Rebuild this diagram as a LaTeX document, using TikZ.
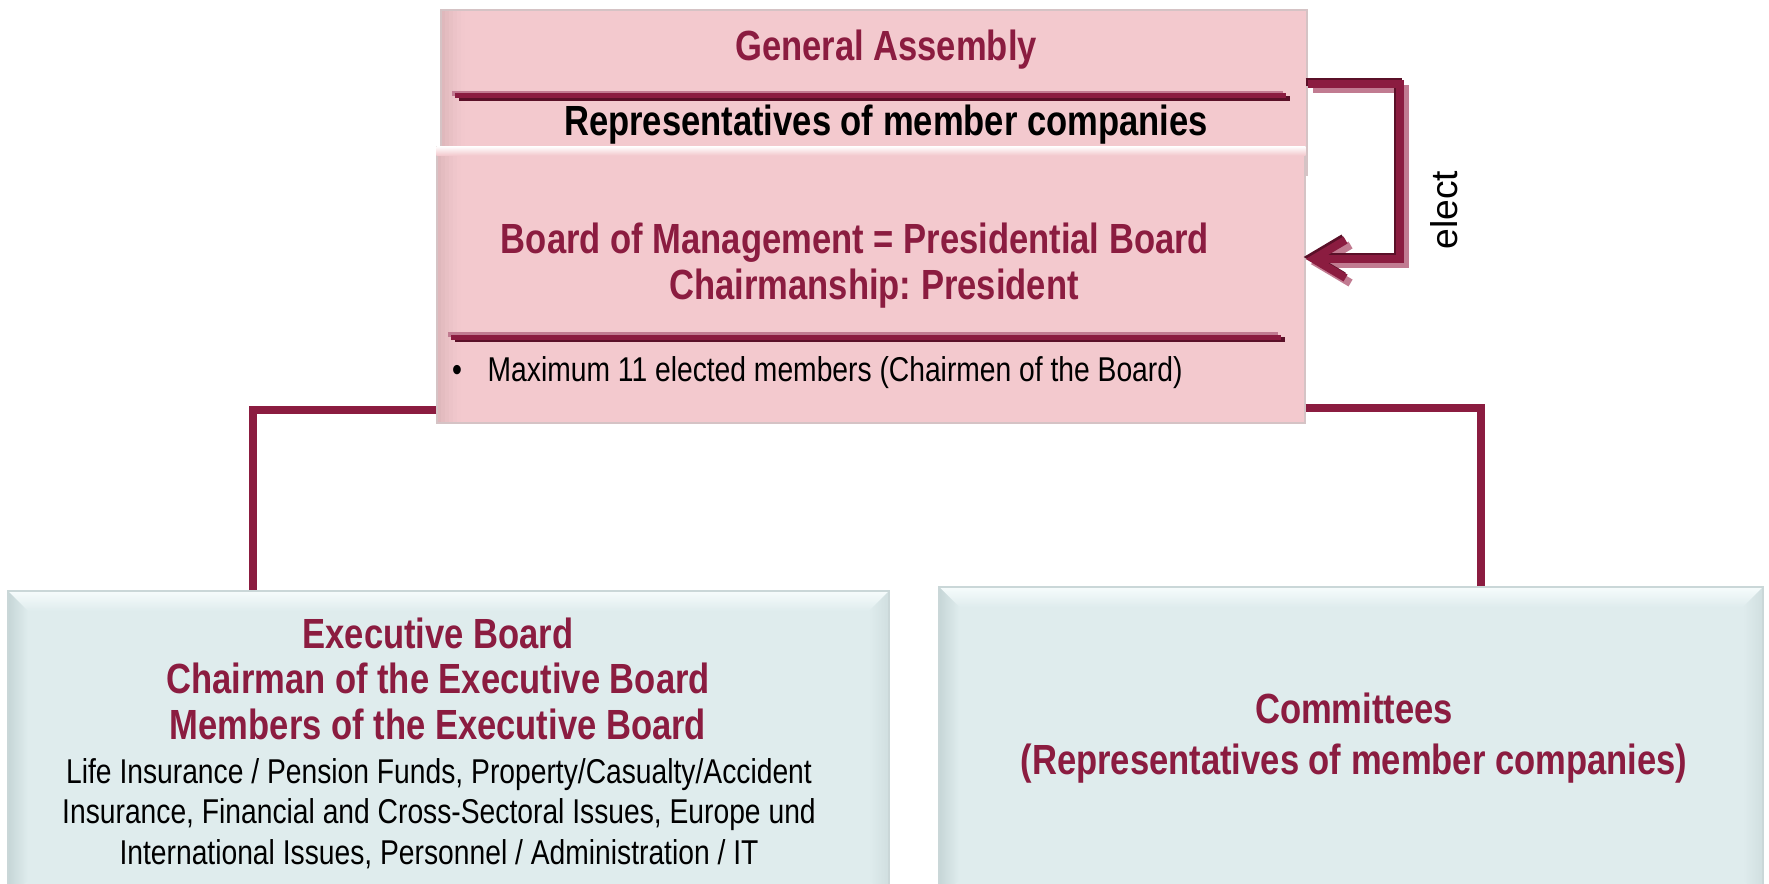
\documentclass[tikz,border=0pt]{standalone}
\usepackage{fontspec}
\setmainfont{Liberation Sans}[FakeStretch=0.82]
\newfontfamily\electfont{Liberation Sans}
\frenchspacing
\usepackage{tikz}
\usetikzlibrary{calc,arrows.meta}
\definecolor{wine}{HTML}{8B1C40}
\definecolor{winedark}{HTML}{5A1028}
\definecolor{wineshade}{HTML}{C17B91}
\definecolor{pinkfill}{HTML}{F3C9CE}
\definecolor{pinkedge}{HTML}{DDB6BA}
\definecolor{pinkrim}{HTML}{D5C3C5}
\definecolor{panelfill}{HTML}{DFECED}
\definecolor{panelhi}{HTML}{F6FCFC}
\definecolor{panelsh}{HTML}{C6D6D7}
\definecolor{panelrim}{HTML}{CAD7D8}

\tikzset{
  pinkbox/.style={draw=pinkrim, line width=0.4pt, fill=pinkfill, inner sep=0pt,
    path picture={
      % darker band fading in from the left edge
      \foreach \i/\p in {0/90,1/70,2/50,3/32,4/16,5/6}
        \fill[pinkedge!\p!pinkfill]
          ([xshift=\i*0.4mm]path picture bounding box.north west) rectangle ([xshift=\i*0.4mm+0.4mm]path picture bounding box.south west);
    }},
  panel/.style={draw=panelrim, line width=0.4pt, fill=panelfill, inner sep=0pt,
    path picture={
      \coordinate (pnw) at (path picture bounding box.north west);
      \coordinate (pne) at (path picture bounding box.north east);
      \coordinate (psw) at (path picture bounding box.south west);
      \coordinate (pse) at (path picture bounding box.south east);
      \shade[top color=panelhi, bottom color=panelfill]
        (pnw) -- (pne) -- ($(pne)+(-20,20)$) -- ($(pnw)+(20,20)$) -- cycle;
      \shade[left color=panelsh, right color=panelfill]
        (pnw) -- ($(pnw)+(20,20)$) -- ($(psw)+(20,-20)$) -- (psw) -- cycle;
      \shade[left color=panelfill, right color=panelsh!60!panelfill]
        (pne) -- ($(pne)+(-20,20)$) -- ($(pse)+(-20,-20)$) -- (pse) -- cycle;
    }},
  head/.style={text=wine, font=\fontsize{12}{13}\selectfont\bfseries, inner sep=0pt},
  body/.style={font=\fontsize{9.8}{11.4}\selectfont, inner sep=0pt},
  link/.style={draw=wine, line width=0.8mm},
  elect/.style={line width=0.8mm, -{Straight Barb[length=3.2mm, width=3.8mm]}},
  sepline/.style={line width=0.5mm}
}

\begin{document}
\begin{tikzpicture}[x=0.1mm, y=-0.1mm]
    \useasboundingbox (0,0) rectangle (1769,883);
    % Upper boxes
    \node[pinkbox, minimum width=86.6mm, minimum height=16.5mm] (ga) at (874,92.5) {};
    \node[pinkbox, minimum width=86.8mm, minimum height=27.6mm] (board) at (871,285) {};
    \shade[top color=white, bottom color=pinkfill]
      (board.north west) rectangle ([yshift=-0.9mm]board.north east);
    % Lower boxes, cut off at the bottom
    \node[panel, minimum width=88.1mm, minimum height=30.9mm] (exec) at (448.5,745.5) {};
    \node[panel, minimum width=82.4mm, minimum height=31.3mm] (committees) at (1351,743.5) {};

    % Rules under the headings
    \coordinate (gasepl) at (455,96);
    \coordinate (gasepr) at (1286,96);
    \coordinate (boardsepl) at (451,337);
    \coordinate (boardsepr) at (1281,337);
    \foreach \from/\to in {gasepl/gasepr, boardsepl/boardsepr} {
      \draw[sepline, wineshade, transform canvas={xshift=-0.3mm, yshift=0.25mm}] (\from) -- (\to);
      \draw[sepline, winedark, transform canvas={xshift=0.4mm, yshift=-0.25mm}] (\from) -- (\to);
      \draw[sepline, wine] (\from) -- (\to);
    }

    % Connectors to the lower boxes
    \coordinate (ljoint) at (253,410);
    \coordinate (rjoint) at (1481,408);
    \draw[link] (board.west |- ljoint) -- (ljoint) -- (exec.north -| ljoint);
    \draw[link] (board.east |- rjoint) -- (rjoint) -- (committees.north -| rjoint);

    % Election arrow with its shadow
    \coordinate (etop) at (1400,84);
    \coordinate (ebot) at (1400,259);
    \draw[elect, wineshade, transform canvas={xshift=0.5mm, yshift=-0.5mm}]
      (ga.east |- etop) -- (etop) -- (ebot) -- (board.east |- ebot);
    \draw[elect, winedark, transform canvas={xshift=-0.2mm, yshift=0.2mm}]
      (ga.east |- etop) -- (etop) -- (ebot) -- (board.east |- ebot);
    \draw[elect, wine]
      (ga.east |- etop) -- (etop) -- (ebot) -- (board.east |- ebot);
    \node[rotate=90, inner sep=0pt, font=\electfont\fontsize{10.6}{12}\selectfont] (electlabel) at (1444,210) {elect};

    % Texts
    \node[head, anchor=base] (gatitle) at (886,61) {General Assembly};
    \node[head, text=black, anchor=base] (gamembers) at (886,136) {Representatives of member companies};
    \node[head, anchor=base] (boardtitle) at (855,254) {Board of Management = Presidential Board};
    \node[head, anchor=base] (chair) at (874,300) {Chairmanship: President};
    \node[body, anchor=base] (bullet) at (457,381) {\textbullet};
    \node[body, anchor=base west] (maxmembers) at (487,381) {Maximum 11 elected members (Chairmen of the Board)};

    % multi-line nodes sit on the baseline of their last line
    \node[head, align=center, anchor=base, font=\fontsize{12}{12.9}\selectfont\bfseries] (exectitle) at (438,739)
      {Executive Board\\Chairman of the Executive Board\\Members of the Executive Board};
    \node[body, align=center, anchor=base] (execareas) at (439,864)
      {Life Insurance / Pension Funds, Property/Casualty/Accident\\Insurance, Financial and Cross-Sectoral Issues, Europe und\\International Issues, Personnel / Administration / IT};
    \node[head, align=center, anchor=base, font=\fontsize{12}{14.5}\selectfont\bfseries] (comtitle) at (1354,774)
      {Committees\\(Representatives of member companies)};
\end{tikzpicture}
\end{document}
